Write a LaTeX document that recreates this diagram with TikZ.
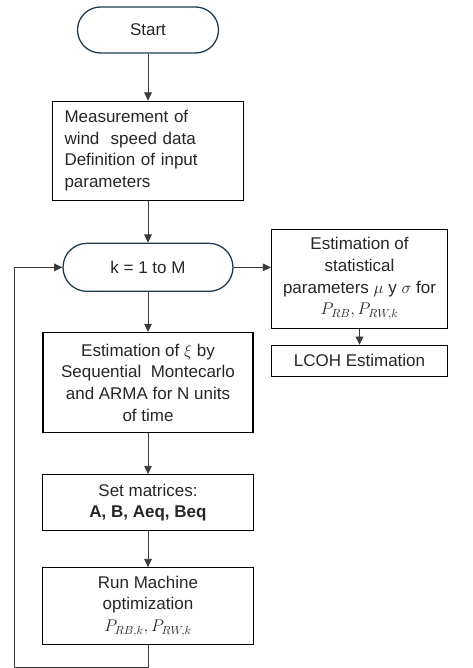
\documentclass[tikz,border=0pt]{standalone}
\usepackage{fontspec}
\setmainfont{Liberation Sans}
\usepackage{xcolor}
\usepackage{tikz}
\usetikzlibrary{arrows.meta, positioning, calc, shapes.misc}
\definecolor{termline}{HTML}{1F3B4D}
\definecolor{txt}{HTML}{262626}
\definecolor{conn}{HTML}{3A3A3A}

\begin{document}
\begin{tikzpicture}[
  font=\fontsize{14.5}{18.5}\selectfont,
  term/.style={draw=termline, line width=1.1pt, rounded rectangle, text=txt,
               inner sep=0pt},
  procbox/.style={draw=black, line width=0.9pt, text=txt, align=center,
                  inner sep=0pt},
  arr/.style={-{Triangle[length=7pt, width=6.5pt]}, color=conn, line width=0.7pt}
]
  \useasboundingbox (0,0) rectangle (14.16,-20.04);

  % Main column
  \node[term, minimum width=4.23cm, minimum height=1.38cm] (start) at (4.44,-0.9) {Start};
  \node[procbox, minimum width=5.73cm, minimum height=2.97cm, text width=5.01cm,
        align=left, below=1.41cm of start] (input)
    {Measurement of\\wind~ speed data\\Definition of input\\parameters};
  \node[term, minimum width=5.1cm, minimum height=1.44cm, below=1.26cm of input] (loop) {k = 1 to M};
  \node[procbox, minimum width=6.3cm, minimum height=3.0cm, below=1.2cm of loop] (xi)
    {Estimation of $\xi$ by\\Sequential~ Montecarlo\\and ARMA for N units\\of time};
  \node[procbox, minimum width=6.33cm, minimum height=1.68cm, below=1.23cm of xi] (mat)
    {Set matrices:\\\textbf{A, B, Aeq, Beq}};
  \node[procbox, minimum width=6.33cm, minimum height=2.31cm, below=1.08cm of mat] (opt)
    {Run Machine\\optimization\\$P_{RB,k}, P_{RW,k}$};

  % Right column: statistics
  \node[procbox, minimum width=5.28cm, minimum height=2.97cm, anchor=north west]
    (stats) at ($(loop.north east)+(1.86,0.42)$)
    {Estimation of\\statistical\\parameters $\mu$ y $\sigma$ for\\$P_{RB}, P_{RW,k}$};
  \node[procbox, minimum width=5.28cm, minimum height=0.93cm, below=0.48cm of stats] (lcoh)
    {LCOH Estimation};

  % Loop return
  \coordinate (back) at (0.42,-20.01);

  % Arrows
  \draw[arr] (start.south) -- (input.north);
  \draw[arr] (input.south) -- (loop.north);
  \draw[arr] (loop.south) -- (xi.north);
  \draw[arr] (xi.south) -- (mat.north);
  \draw[arr] (mat.south) -- (opt.north);
  \draw[arr] (loop.east) -- (loop.east -| stats.west);
  \draw[arr] (stats.south) -- (lcoh.north);
  \draw[arr] (opt.south) |- (back) |- (loop.west);
\end{tikzpicture}
\end{document}
